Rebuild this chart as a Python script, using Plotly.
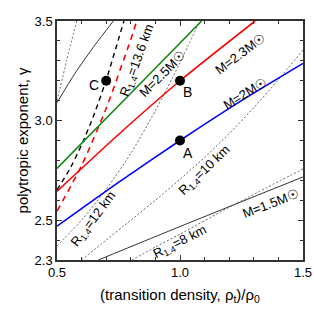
import plotly.graph_objects as go

# ---- data ----
m2_x = [0.5, 0.75, 1.0, 1.25, 1.5]
m2_y = [2.47, 2.69, 2.9, 3.10, 3.287]

m23_x = [0.5, 0.75, 1.0, 1.305]
m23_y = [2.645, 2.93, 3.2, 3.5]

m25_x = [0.5, 0.8, 1.088]
m25_y = [2.76, 3.137, 3.5]

r136_x = [0.5, 0.6, 0.7, 0.8, 0.824]
r136_y = [2.545, 2.774, 3.062, 3.408, 3.5]

rc_x = [0.5, 0.55, 0.6, 0.65, 0.7, 0.772]
rc_y = [2.652, 2.752, 2.878, 3.028, 3.204, 3.5]

mtop_x = [0.5, 0.573, 0.654, 0.729]
mtop_y = [3.09, 3.237, 3.379, 3.5]

rtop_x = [0.5, 0.54, 0.58]
rtop_y = [3.10, 3.305, 3.5]

r12_x = [0.5, 0.6, 0.7, 0.8, 0.9, 1.0, 1.08]
r12_y = [2.37, 2.50, 2.655, 2.835, 3.05, 3.29, 3.5]

r10_x = [0.6, 0.7, 0.8, 0.9, 1.0, 1.1, 1.2, 1.3, 1.4, 1.5]
r10_y = [2.3, 2.40, 2.50, 2.60, 2.705, 2.815, 2.935, 3.065, 3.205, 3.355]

m15_x = [0.668, 1.0, 1.5]
m15_y = [2.3, 2.468, 2.717]

r8_x = [0.804, 0.9, 1.0, 1.2, 1.5]
r8_y = [2.3, 2.365, 2.43, 2.565, 2.757]

pt_names = ["A", "B", "C"]
pt_x = [1.0, 1.0, 0.7]
pt_y = [2.9, 3.2, 3.2]

x_ticks = [0.5, 1.0, 1.5]
x_ticktext = ["0.5", "1.0", "1.5"]
y_ticks = [2.3, 2.5, 3.0, 3.5]
y_ticktext = ["2.3", "2.5", "3.0", "3.5"]

FONT = "Liberation Sans, Arial, sans-serif"

fig = go.Figure()

def add_line(x, y, color, width, dash="solid"):
    fig.add_trace(go.Scatter(x=x, y=y, mode="lines",
                             line=dict(color=color, width=width, dash=dash, shape="spline", smoothing=0.6),
                             showlegend=False, hoverinfo="skip"))

thin_dash = "2px,2px"
add_line(rtop_x, rtop_y, "#666666", 1, thin_dash)
add_line(mtop_x, mtop_y, "#333333", 1)
add_line(r12_x, r12_y, "#666666", 1, thin_dash)
add_line(r10_x, r10_y, "#666666", 1, thin_dash)
add_line(r8_x, r8_y, "#666666", 1, thin_dash)
add_line(m15_x, m15_y, "#333333", 1)
add_line(rc_x, rc_y, "#000000", 1.4, "5px,4px")
add_line(r136_x, r136_y, "#ff0000", 1.6, "6px,5px")
add_line(m25_x, m25_y, "#118811", 1.6)
add_line(m23_x, m23_y, "#ff0000", 1.6)
add_line(m2_x, m2_y, "#0000ff", 1.6)

fig.add_trace(go.Scatter(x=pt_x, y=pt_y, mode="markers",
                         marker=dict(color="black", size=10),
                         showlegend=False, hoverinfo="skip"))

# point labels
label_off = {"A": (8, 12), "B": (7, 11), "C": (-12, 4)}
for n, x, y in zip(pt_names, pt_x, pt_y):
    dx, dy = label_off[n]
    fig.add_annotation(x=x, y=y, text=n, showarrow=False, xshift=dx, yshift=-dy,
                       font=dict(family=FONT, size=14, color="black"))

sun = "M☉"
labels = [
    ("R<sub>1.4</sub>=13.6 km", 0.828, 3.30, -70),
    ("M=2.5" + sun, 0.93, 3.235, -45),
    ("M=2.3" + sun, 1.247, 3.335, -37),
    ("M=2" + sun, 1.263, 3.135, -32),
    ("R<sub>1.4</sub>=12 km", 0.648, 2.505, -53),
    ("R<sub>1.4</sub>=10 km", 1.1, 2.75, -44),
    ("M=1.5" + sun, 1.368, 2.585, -21),
    ("R<sub>1.4</sub>=8 km", 0.998, 2.39, -27),
]
for t, x, y, a in labels:
    fig.add_annotation(x=x, y=y, text=t, showarrow=False, textangle=a,
                       font=dict(family=FONT, size=13, color="black"))

axis_common = dict(showline=True, linecolor="#333333", linewidth=1.5, mirror="ticks",
                   ticks="inside", ticklen=5, tickwidth=1, tickcolor="#333333",
                   showgrid=False, zeroline=False, automargin=False,
                   tickfont=dict(family=FONT, size=13, color="black"))

fig.update_xaxes(range=[0.5, 1.5], tickmode="array", tickvals=x_ticks, ticktext=x_ticktext,
                 minor=dict(ticks="inside", ticklen=3, dtick=0.1, tick0=0.5, tickcolor="#333333"),
                 title=dict(text="(transition density, ρ<sub>t</sub>)/ρ<sub>0</sub>",
                            font=dict(family=FONT, size=15, color="black"), standoff=10),
                 **axis_common)
fig.update_yaxes(range=[2.3, 3.5], tickmode="array", tickvals=y_ticks, ticktext=y_ticktext,
                 minor=dict(ticks="inside", ticklen=3, dtick=0.1, tick0=2.3, tickcolor="#333333"),
                 title=dict(text="polytropic exponent, γ",
                            font=dict(family=FONT, size=15, color="black"), standoff=2),
                 **axis_common)

fig.update_layout(width=314, height=314, margin=dict(l=57, r=11, t=21, b=54),
                  paper_bgcolor="white", plot_bgcolor="white", showlegend=False)

fig.write_html("out.html", config={"displayModeBar": False},
               post_script="document.body.style.margin='0';")
